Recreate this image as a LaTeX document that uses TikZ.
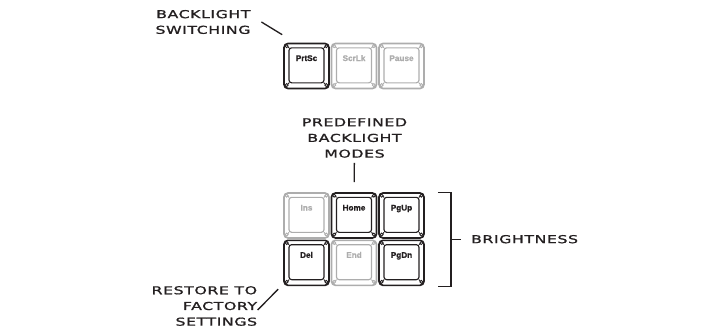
\documentclass[tikz,border=0pt]{standalone}
\usepackage{fontspec}
\usetikzlibrary{positioning, calc}
\newfontfamily\techfont[FakeStretch=1.45, LetterSpace=5, FakeBold=1.2]{DejaVu Sans}
\newfontfamily\capfont[FakeBold=1]{Liberation Sans}
\definecolor{inkdark}{HTML}{231F20}
\definecolor{inkgrey}{HTML}{ADADAD}

\begin{document}
\begin{tikzpicture}[
  x=0.3mm, y=-0.3mm,
  node distance=0.2mm and 0.25mm,
  keyCap/.style={draw=#1, text=#1, line width=0.5mm, rounded corners=1.2mm, minimum size=13.5mm, inner sep=0pt,
    text height=1.8mm, text depth=4.8mm, font=\capfont\bfseries\fontsize{7}{7}\selectfont,
    path picture={
      \draw[#1, line width=0.35mm, rounded corners=0.8mm]
        ([shift={(1.5mm,-1.3mm)}]path picture bounding box.north west) rectangle
        ([shift={(-1.5mm,1.7mm)}]path picture bounding box.south east);
      \foreach \corner/\dx/\dy in {north west/1/-1, north east/-1/-1, south west/1/1.3, south east/-1/1.3}{
        \draw[#1, line width=0.3mm] (path picture bounding box.\corner) -- ([shift={(\dx*1.5mm,\dy*1.3mm)}]path picture bounding box.\corner);
        \draw[#1, line width=0.25mm, fill=white] ([shift={(\dx*0.8mm,\dy*0.8mm)}]path picture bounding box.\corner) circle (0.45mm);
      }
    }},
  keyOn/.style={keyCap=inkdark},
  keyOff/.style={keyCap=inkgrey},
  calloutText/.style={font=\techfont\fontsize{9.3}{13.4}\selectfont, text=inkdark, inner sep=0.5mm},
  leader/.style={draw=inkdark, line width=0.4mm}
]
\useasboundingbox (0,0) rectangle (702,334);

% Top row: PrtSc / ScrLk / Pause
\node[keyOn] (prtsc) at (306.5,66) {PrtSc};
\node[keyOff, right=of prtsc] (scrlk) {ScrLk};
\node[keyOff, right=of scrlk] (pause) {Pause};

% Navigation block
\node[keyOff] (ins) at (306.5,215.5) {Ins};
\node[keyOn, right=of ins] (home) {Home};
\node[keyOn, right=of home] (pgup) {PgUp};
\node[keyOn, below=of ins] (del) {Del};
\node[keyOff, right=of del] (end) {End};
\node[keyOn, right=of end] (pgdn) {PgDn};

% Callouts
\node[calloutText, align=right] (switchText) at (203,22) {BACKLIGHT\\SWITCHING};
\node[calloutText, align=center] (modesText) at (354.5,138) {PREDEFINED\\BACKLIGHT\\MODES};
\node[calloutText, align=right, anchor=east] (restoreText) at (259,306) {RESTORE TO\\FACTORY\\SETTINGS};

% Brightness bracket
\draw[leader] ([xshift=3.9mm]pgup.north east) -| coordinate[pos=0.75] (braceMid) ([xshift=7.8mm]pgdn.south east) -- ([xshift=3.9mm]pgdn.south east);
\node[calloutText, right=5.5mm of braceMid] (bright) {BRIGHTNESS};

% Leader lines
\draw[leader] ([xshift=2.7mm]switchText.east) -- ([shift={(-0.3mm,2.4mm)}]prtsc.north west);
\draw[leader, shorten <=1mm, shorten >=3mm] (modesText) -- (home);
\draw[leader] ([shift={(-0.4mm,-1.2mm)}]restoreText.east) -- ([shift={(-1.5mm,-0.9mm)}]del.south west);
\draw[leader, shorten >=2.5mm] (braceMid) -- (bright);

\end{tikzpicture}
\end{document}
